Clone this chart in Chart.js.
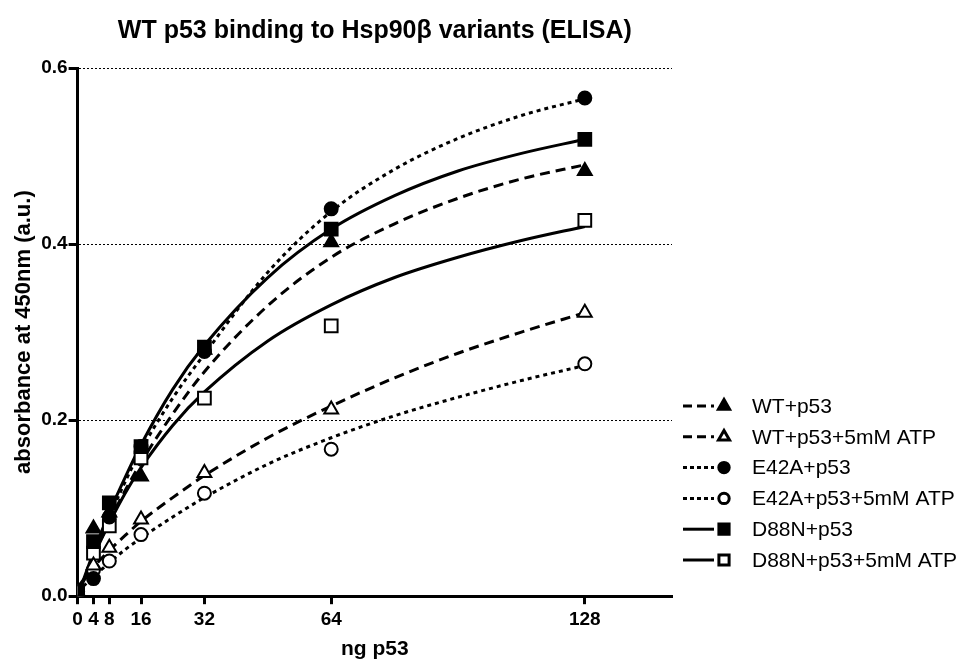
<!DOCTYPE html>
<html>
<head>
<meta charset="utf-8">
<script src="https://cdn.jsdelivr.net/npm/chart.js@4.4.1/dist/chart.umd.min.js"></script>
<style>
  html, body { margin: 0; padding: 0; background: #fff; }
</style>
</head>
<body>
<canvas id="elisaChart" width="968" height="661"></canvas>
<script>
// measured doses (ng p53) and absorbance readings
const doses = [0, 4, 8, 16, 32, 64, 128];
const wtP53 = [0.005, 0.077, 0.095, 0.136, 0.28, 0.402, 0.483];
const wtAtp = [0.005, 0.035, 0.055, 0.087, 0.14, 0.212, 0.322];
const e42a = [0.005, 0.02, 0.09, 0.17, 0.278, 0.44, 0.566];
const e42aAtp = [0.005, 0.03, 0.04, 0.07, 0.117, 0.167, 0.264];
const d88n = [0.005, 0.062, 0.106, 0.17, 0.283, 0.417, 0.519];
const d88nAtp = [0.005, 0.049, 0.08, 0.157, 0.225, 0.307, 0.427];

// fitted curves
const curveX = [0, 4, 8, 12, 16, 24, 32, 48, 64, 80, 96, 112, 128];
const wtP53Fit = [0, 0.045, 0.085, 0.12, 0.152, 0.207, 0.255, 0.33, 0.385, 0.423, 0.452, 0.474, 0.49];
const wtAtpFit = [0.01, 0.033, 0.052, 0.069, 0.085, 0.112, 0.137, 0.18, 0.216, 0.248, 0.276, 0.3, 0.322];
const e42aFit = [0, 0.047, 0.09, 0.13, 0.166, 0.225, 0.275, 0.368, 0.437, 0.485, 0.52, 0.546, 0.565];
const e42aAtpFit = [0.005, 0.022, 0.038, 0.053, 0.066, 0.09, 0.112, 0.15, 0.18, 0.205, 0.226, 0.245, 0.262];
const d88nFit = [0, 0.05, 0.095, 0.135, 0.172, 0.235, 0.285, 0.362, 0.417, 0.455, 0.483, 0.503, 0.519];
const d88nAtpFit = [0, 0.045, 0.083, 0.117, 0.146, 0.194, 0.232, 0.29, 0.331, 0.362, 0.385, 0.404, 0.42];

const xTicks = [0, 4, 8, 16, 32, 64, 128];
const yTicks = [0, 0.2, 0.4, 0.6];

const DASHED = [10, 6];
const DOTTED = [4, 4];
const FONT = "'Liberation Sans', Arial, sans-serif";

const series = [
  { label: 'WT+p53', pts: wtP53, fit: wtP53Fit, dash: DASHED, style: 'triangle', filled: true, r: 8 },
  { label: 'WT+p53+5mM ATP', pts: wtAtp, fit: wtAtpFit, dash: DASHED, style: 'triangle', filled: false, r: 8 },
  { label: 'E42A+p53', pts: e42a, fit: e42aFit, dash: DOTTED, style: 'circle', filled: true, r: 6.5 },
  { label: 'E42A+p53+5mM ATP', pts: e42aAtp, fit: e42aAtpFit, dash: DOTTED, style: 'circle', filled: false, r: 6.5 },
  { label: 'D88N+p53', pts: d88n, fit: d88nFit, dash: [], style: 'rect', filled: true, r: 9 },
  { label: 'D88N+p53+5mM ATP', pts: d88nAtp, fit: d88nAtpFit, dash: [], style: 'rect', filled: false, r: 9 },
];

const pointSets = series.map(s => ({
  type: 'scatter',
  label: s.label,
  data: doses.map((x, i) => ({ x, y: s.pts[i] })),
  pointStyle: s.style,
  pointRadius: s.r,
  pointHoverRadius: s.r,
  pointBackgroundColor: s.filled ? '#000' : '#fff',
  pointBorderColor: '#000',
  pointBorderWidth: 2,
  showLine: false,
}));

const fitSets = series.map(s => ({
  type: 'line',
  label: s.label + ' fit',
  data: curveX.map((x, i) => ({ x, y: s.fit[i] })),
  borderColor: '#000',
  borderWidth: 3,
  borderDash: s.dash,
  pointRadius: 0,
  cubicInterpolationMode: 'monotone',
  fill: false,
}));

// legend with line sample + marker, drawn on the canvas
const lineLegend = {
  id: 'lineLegend',
  afterDraw(chart) {
    const ctx = chart.ctx;
    ctx.save();
    series.forEach((s, i) => {
      const y = 406 + i * 30.8;
      ctx.strokeStyle = '#000';
      ctx.lineWidth = 3;
      ctx.setLineDash(s.dash.length ? (s.dash === DOTTED ? [4, 3] : [9, 5]) : []);
      ctx.beginPath();
      ctx.moveTo(683, y);
      ctx.lineTo(714, y);
      ctx.stroke();
      ctx.setLineDash([]);
      ctx.fillStyle = s.filled ? '#000' : '#fff';
      Chart.helpers.drawPoint(ctx, {
        pointStyle: s.style,
        radius: s.r * 0.8,
        rotation: 0,
        borderWidth: 2,
      }, 724, y);
      ctx.fillStyle = '#000';
      ctx.font = '21px ' + FONT;
      ctx.textBaseline = 'middle';
      ctx.fillText(s.label, 752, y + 1);
    });
    ctx.restore();
  }
};

new Chart(document.getElementById('elisaChart'), {
  data: { datasets: [...pointSets, ...fitSets] },
  options: {
    responsive: false,
    animation: false,
    layout: { padding: { top: 8, right: 296, left: 8, bottom: 1 } },
    plugins: {
      legend: { display: false },
      tooltip: { enabled: false },
      title: {
        display: true,
        fullSize: false,
        text: 'WT p53 binding to Hsp90\u03b2 variants (ELISA)',
        color: '#000',
        font: { family: FONT, size: 25, weight: 'bold' },
        padding: { top: 8, bottom: 22 },
      },
    },
    scales: {
      x: {
        type: 'linear',
        min: 0,
        max: 150,
        afterBuildTicks: axis => { axis.ticks = xTicks.map(v => ({ value: v })); },
        border: { display: true, color: '#000', width: 3 },
        grid: { drawOnChartArea: false, drawTicks: true, tickLength: 8, tickWidth: 3, tickColor: '#000' },
        ticks: { color: '#000', font: { family: FONT, size: 19, weight: 'bold' }, padding: 4, maxRotation: 0, autoSkip: false },
        title: { display: true, text: 'ng p53', color: '#000', font: { family: FONT, size: 21, weight: 'bold', lineHeight: 1 }, padding: { top: 4, bottom: 0 } },
      },
      y: {
        type: 'linear',
        min: 0,
        max: 0.6,
        afterBuildTicks: axis => { axis.ticks = yTicks.map(v => ({ value: v })); },
        border: { display: true, color: '#000', width: 3, dash: [2, 2] },
        grid: {
          color: c => (c.tick && c.tick.value === 0 ? 'rgba(0,0,0,0)' : '#000'),
          lineWidth: 1,
          drawTicks: true,
          tickLength: 9,
          tickWidth: 3,
          tickColor: '#000',
          tickBorderDash: [],
        },
        ticks: { color: '#000', font: { family: FONT, size: 19, weight: 'bold' }, padding: 1, callback: v => v.toFixed(1) },
        title: { display: true, text: 'absorbance at 450nm (a.u.)', color: '#000', font: { family: FONT, size: 22, weight: 'bold', lineHeight: 1.1 }, padding: { bottom: 4 } },
      },
    },
  },
  plugins: [lineLegend],
});
</script>
</body>
</html>
